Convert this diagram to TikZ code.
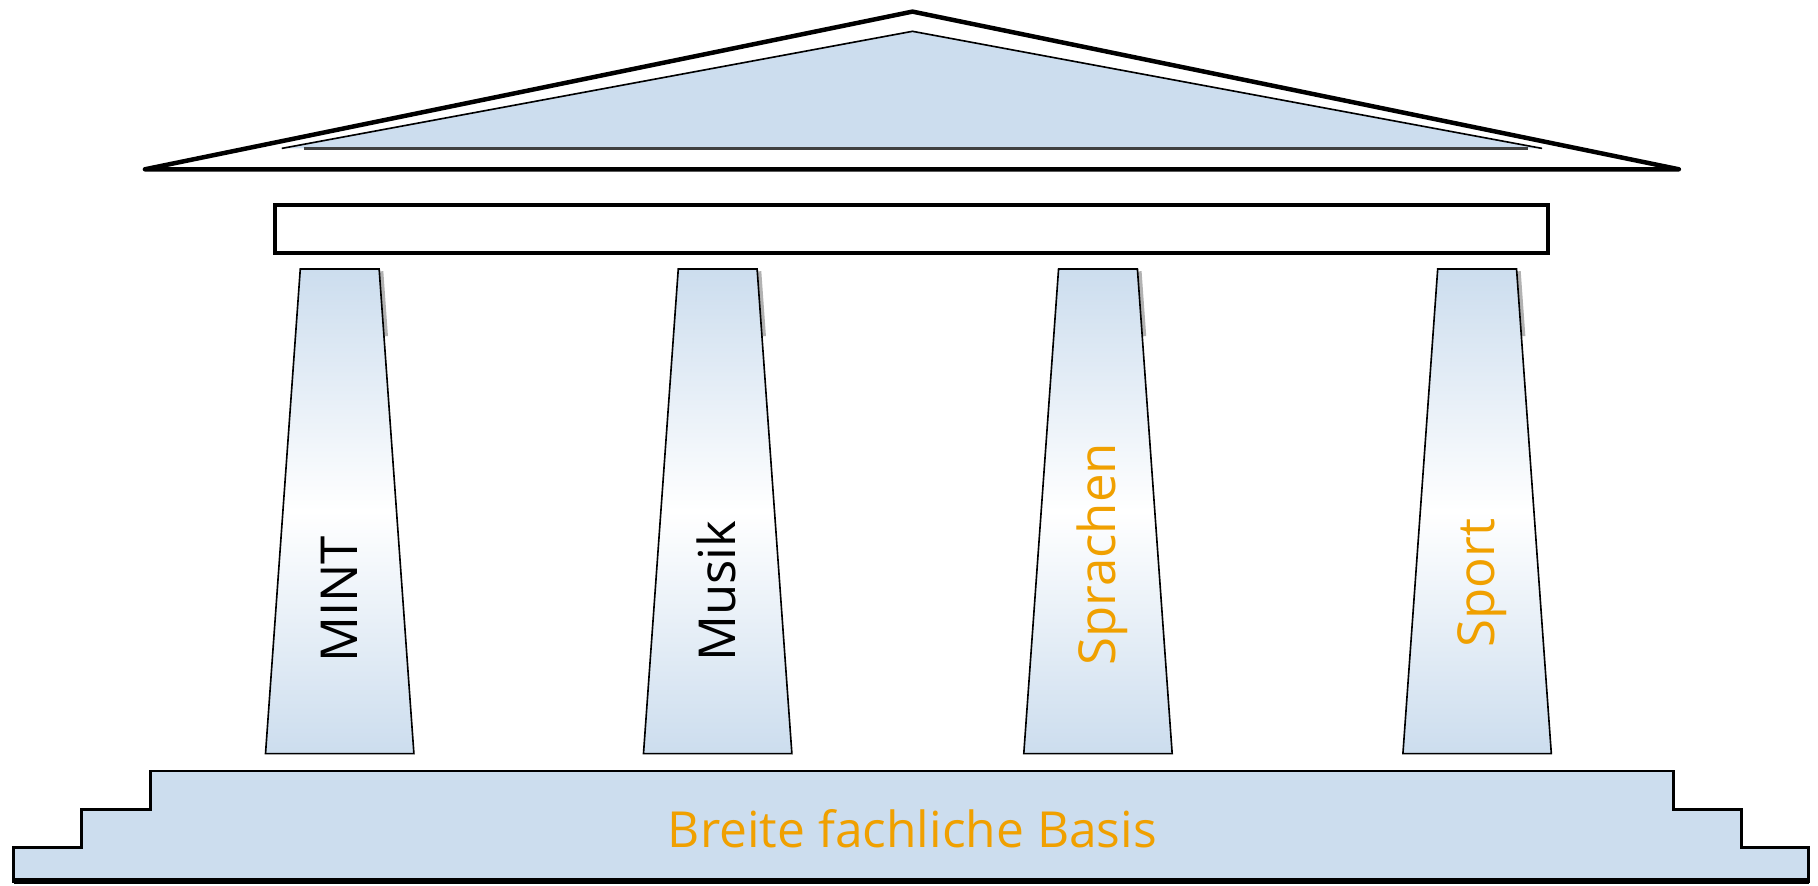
\documentclass[tikz,border=0pt]{standalone}
\usepackage{fontspec}
\setmainfont{Open Sans}
\usepackage{tikz}
\usetikzlibrary{calc,positioning}

\definecolor{tempelblau}{RGB}{204,221,238}
\definecolor{schriftorange}{RGB}{240,160,0}

\begin{document}
\begin{tikzpicture}[x=0.1mm,y=-0.1mm,
    dach/.style = {draw, line width=1.1pt, line join=round},
    saeule/.style = {draw, thin, top color=tempelblau, bottom color=tempelblau, middle color=white},
    beschriftung/.style = {font=\fontsize{12.5}{15}\selectfont, inner sep=0pt}]
    % Rahmen des Bildes
    \useasboundingbox (0,0) rectangle (1568,764);

    % Dach: aeusseres Dreieck + blaues Giebelfeld
    \coordinate (D1) at (125,146);
    \coordinate (D2) at (787,10);
    \coordinate (D3) at (1448,146);
    \draw[dach] (D1) -- (D2) -- (D3) -- cycle;
    \fill[tempelblau] (243,128) -- (787,27) -- (1330,128) -- cycle;
    \draw[thin] (243,128) -- (787,27) -- (1330,128);
    \draw[line width=0.9pt, black!75] (262,128) -- (1318,128);

    % Balken unter dem Dach
    \draw[line width=1.1pt] (237,177) rectangle (1335,218);

    % 4 Saeulen mit gedrehter Beschriftung
    \def\oben{34}
    \def\unten{64}
    \foreach \cx/\fach/\farbe/\ym [count=\i] in {293/MINT/black/517, 619/Musik/black/510, 947/Sprachen/schriftorange/478, 1274/Sport/schriftorange/503}{
        \draw[black!30, line width=1.2pt] (\cx+\oben+1.5,234) -- (\cx+\oben+5.5,290);
        \shade[saeule] (\cx-\oben,232) -- (\cx+\oben,232) -- (\cx+\unten,650) -- (\cx-\unten,650) -- cycle;
        \node[beschriftung, text=\farbe, rotate=90, anchor=base] (fach\i) at (\cx+15,\ym) {\fach};
    }

    % Stufen der Basis
    \filldraw[fill=tempelblau, draw=black, line width=0.7pt]
        (130,665) -- (1443,665) -- (1443,698) -- (1502,698) -- (1502,731) -- (1560,731)
        -- (1560,760) -- (12,760) -- (12,731) -- (70,731) -- (70,698) -- (130,698) -- cycle;
    \draw[line width=1.4pt] (12,760) -- (1560,760);
    \node[beschriftung, text=schriftorange, font=\fontsize{12.2}{15}\selectfont] (basis) at (787,715) {Breite fachliche Basis};
\end{tikzpicture}
\end{document}
